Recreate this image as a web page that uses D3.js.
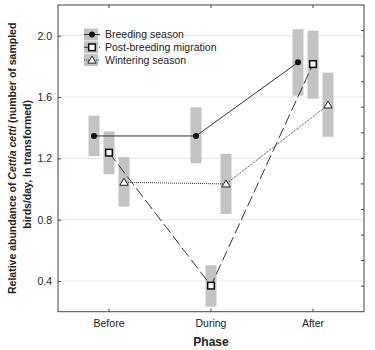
<!DOCTYPE html>
<html><head><meta charset="utf-8">
<script src="https://cdn.jsdelivr.net/npm/d3@7"></script>
<style>body{margin:0;background:#fff}svg{display:block}text{font-family:"Liberation Sans",Arial,sans-serif;fill:#222}</style>
</head><body><svg id="c" width="375" height="350"></svg>
<script>
const phases = ["Before", "During", "After"];
const seriesNames = ["Breeding season", "Post-breeding migration", "Wintering season"];
const breedingMean = [1.346, 1.346, 1.826];
const breedingLow  = [1.215, 1.168, 1.609];
const breedingHigh = [1.478, 1.533, 2.042];
const postMean = [1.237, 0.370, 1.815];
const postLow  = [1.096, 0.233, 1.589];
const postHigh = [1.376, 0.503, 2.032];
const winterMean = [1.044, 1.033, 1.548];
const winterLow  = [0.885, 0.837, 1.341];
const winterHigh = [1.209, 1.230, 1.759];
const yTicks = [0.4, 0.8, 1.2, 1.6, 2.0];

const series = [
  {name: seriesNames[0], mean: breedingMean, low: breedingLow, high: breedingHigh, dash: null, marker: "circle", off: -15},
  {name: seriesNames[1], mean: postMean, low: postLow, high: postHigh, dash: "11,4", marker: "square", off: 0},
  {name: seriesNames[2], mean: winterMean, low: winterLow, high: winterHigh, dash: "1,1", marker: "triangle", off: 15}
];

const svg = d3.select("#c");
const L = 58, R = 364, T = 5, B = 311.7;
const x = d3.scaleBand().domain(phases).range([L, R]).padding(0);
const y = d3.scaleLinear().domain([0.2, 2.2]).range([B, T]);
const cx = (p, s) => x(p) + x.bandwidth() / 2 + s.off;

// grid
svg.append("g").selectAll("line").data(yTicks).join("line")
  .attr("x1", L).attr("x2", R).attr("y1", d => y(d)).attr("y2", d => y(d))
  .attr("stroke", "#e6e6e6").attr("stroke-width", 1);

// bars
series.forEach(s => {
  svg.append("g").selectAll("rect").data(phases).join("rect")
    .attr("x", (p) => cx(p, s) - 5.5).attr("width", 11)
    .attr("y", (p, i) => y(s.high[i])).attr("height", (p, i) => y(s.low[i]) - y(s.high[i]))
    .attr("fill", "#c3c3c3");
});

// lines
const line = d3.line().x(d => d[0]).y(d => d[1]);
series.forEach(s => {
  svg.append("path").datum(phases.map((p, i) => [cx(p, s), y(s.mean[i])]))
    .attr("d", line).attr("fill", "none").attr("stroke", "#333").attr("stroke-width", 1)
    .attr("stroke-dasharray", s.dash);
});

function marker(g, type, px, py) {
  if (type === "circle") g.append("circle").attr("cx", px).attr("cy", py).attr("r", 3).attr("fill", "#111");
  else if (type === "square") g.append("rect").attr("x", px - 3.3).attr("y", py - 3.3).attr("width", 6.6).attr("height", 6.6)
    .attr("fill", "#fff").attr("stroke", "#111").attr("stroke-width", 1.5);
  else g.append("path").attr("d", `M${px},${py - 4}L${px + 4.2},${py + 3}L${px - 4.2},${py + 3}Z`)
    .attr("fill", "#fff").attr("stroke", "#222").attr("stroke-width", 1);
}
series.forEach(s => {
  const g = svg.append("g");
  phases.forEach((p, i) => marker(g, s.marker, cx(p, s), y(s.mean[i])));
});

// frame
svg.append("rect").attr("x", L).attr("y", T).attr("width", R - L).attr("height", B - T)
  .attr("fill", "none").attr("stroke", "#444").attr("stroke-width", 1);

// left axis
const ya = svg.append("g").attr("transform", `translate(${L},0)`)
  .call(d3.axisLeft(y).tickValues(yTicks).tickFormat(d3.format(".1f")).tickSize(-3).tickPadding(6));
ya.select(".domain").remove();
ya.selectAll("line").attr("stroke", "#444");
ya.selectAll("text").attr("font-size", 10.5).attr("fill", "#222").attr("font-family", "Liberation Sans, Arial, sans-serif");

// right inward ticks
const rTicks = d3.range(1, 12).map(k => 0.2 + k * 2 / 12);
svg.append("g").selectAll("line").data(rTicks).join("line")
  .attr("x1", R - 3).attr("x2", R).attr("y1", d => y(d)).attr("y2", d => y(d)).attr("stroke", "#444");

// bottom axis
const xa = svg.append("g").attr("transform", `translate(0,${B})`)
  .call(d3.axisBottom(x).tickSize(-3).tickPadding(8));
xa.select(".domain").remove();
xa.selectAll("line").attr("stroke", "#444");
xa.selectAll("text").attr("font-size", 10.5).attr("fill", "#222").attr("font-family", "Liberation Sans, Arial, sans-serif");
// top ticks
svg.append("g").selectAll("line").data(phases).join("line")
  .attr("x1", p => x(p) + x.bandwidth() / 2).attr("x2", p => x(p) + x.bandwidth() / 2)
  .attr("y1", T).attr("y2", T + 3).attr("stroke", "#444");

// axis titles
svg.append("text").attr("x", (L + R) / 2).attr("y", 346).attr("text-anchor", "middle")
  .attr("font-size", 12).attr("font-weight", "bold").text("Phase");
const yt = svg.append("text").attr("transform", `translate(16,${(T + B) / 2}) rotate(-90)`)
  .attr("text-anchor", "middle").attr("font-size", 10.5).attr("font-weight", "bold");
yt.append("tspan").text("Relative abundance of ");
yt.append("tspan").attr("font-style", "italic").text("Cettia cetti");
yt.append("tspan").text(" (number of sampled");
svg.append("text").attr("transform", `translate(31,${(T + B) / 2 + 6}) rotate(-90)`)
  .attr("text-anchor", "middle").attr("font-size", 10.5).attr("font-weight", "bold")
  .text("birds/day, ln transformed)");

// legend
const lg = svg.append("g");
series.forEach((s, i) => {
  const ly = 34.5 + i * 12.8;
  lg.append("rect").attr("x", 84).attr("y", ly - 6).attr("width", 14).attr("height", 12).attr("fill", "#c3c3c3");
  lg.append("line").attr("x1", 84).attr("x2", 100).attr("y1", ly).attr("y2", ly)
    .attr("stroke", "#333").attr("stroke-dasharray", s.dash);
  marker(lg, s.marker, 92, ly);
  lg.append("text").attr("x", 105).attr("y", ly + 3.8).attr("font-size", 10.5).text(s.name);
});
</script></body></html>
